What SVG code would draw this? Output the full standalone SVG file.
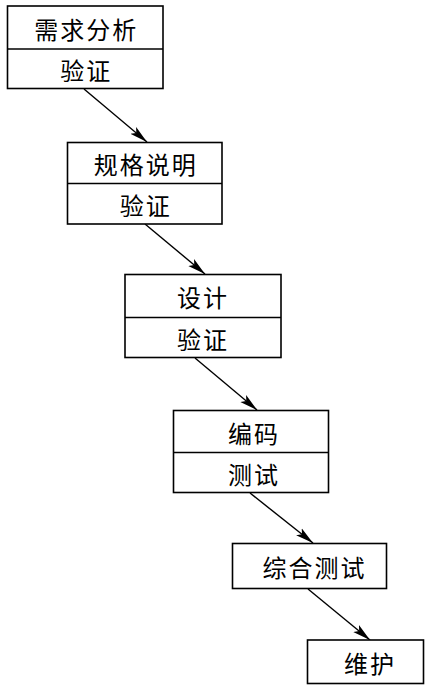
<svg xmlns="http://www.w3.org/2000/svg" width="434" height="690" viewBox="0 0 434 690">
<defs>
<marker id="arr" markerWidth="18" markerHeight="10" refX="18" refY="5" orient="auto" markerUnits="userSpaceOnUse">
<path d="M0,0.5 L18,5 L0,9.5 L4,5 Z" fill="#000"/>
</marker>
<style>
.box{fill:#fff;stroke:#000;stroke-width:1.6}
.div{stroke:#000;stroke-width:1.4}
.t{font-family:"Noto Sans CJK SC","Noto Sans",sans-serif;font-size:24px;letter-spacing:2px;fill:#000;text-anchor:middle;dominant-baseline:central}
.c{stroke:#000;stroke-width:1.4;fill:none;marker-end:url(#arr)}
</style>
</defs>
<rect width="434" height="690" fill="#fff"/>
<g id="connectors">
<line class="c" x1="84" y1="89" x2="147" y2="142"/>
<line class="c" x1="145" y1="224" x2="205" y2="274"/>
<line class="c" x1="195" y1="358" x2="257" y2="410"/>
<line class="c" x1="250" y1="493" x2="313" y2="543"/>
<line class="c" x1="308" y1="589" x2="370" y2="640"/>
</g>
<g id="n1">
<rect class="box" x="7.5" y="6" width="155.5" height="82.5"/>
<line class="div" x1="7.5" y1="49" x2="163" y2="49"/>
<text class="t" x="86.3" y="28">需求分析</text>
<text class="t" x="86.3" y="69">验证</text>
</g>
<g id="n2">
<rect class="box" x="67.5" y="142.5" width="154.5" height="81.5"/>
<line class="div" x1="67.5" y1="183.5" x2="222" y2="183.5"/>
<text class="t" x="145.8" y="163.5">规格说明</text>
<text class="t" x="145.8" y="204">验证</text>
</g>
<g id="n3">
<rect class="box" x="125" y="274.5" width="156" height="83"/>
<line class="div" x1="125" y1="317.5" x2="281" y2="317.5"/>
<text class="t" x="203" y="296.5">设计</text>
<text class="t" x="203" y="338">验证</text>
</g>
<g id="n4">
<rect class="box" x="173.5" y="410.5" width="155" height="82"/>
<line class="div" x1="173.5" y1="452.5" x2="328.5" y2="452.5"/>
<text class="t" x="254" y="432">编码</text>
<text class="t" x="254" y="473">测试</text>
</g>
<g id="n5">
<rect class="box" x="232.5" y="543.5" width="154" height="45"/>
<text class="t" x="314.5" y="566">综合测试</text>
</g>
<g id="n6">
<rect class="box" x="307.5" y="640" width="116" height="43.5"/>
<text class="t" x="370" y="662">维护</text>
</g>
</svg>
